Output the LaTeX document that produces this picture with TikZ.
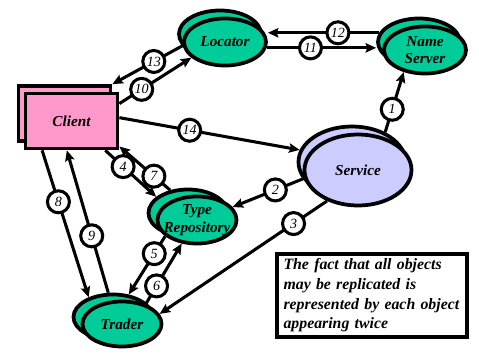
\documentclass[tikz,border=0pt]{standalone}
\usepackage{fontspec}
\setmainfont{Liberation Serif}
\usetikzlibrary{shapes.geometric,arrows.meta}
\definecolor{objgreen}{RGB}{0,204,153}
\definecolor{clipink}{RGB}{255,153,204}
\definecolor{svcblue}{RGB}{204,204,255}
\begin{document}
\begin{tikzpicture}[x=0.3mm,y=-0.3mm,>={Stealth[length=9pt,width=8pt,inset=1.5pt]},
  obj/.style={ellipse,draw,line width=3.2pt,fill=objgreen,inner sep=0pt,minimum width=24.6mm,minimum height=14.1mm,align=center,font=\bfseries\itshape\fontsize{13}{15}\selectfont},
  cli/.style={rectangle,draw,line width=3.2pt,fill=clipink,minimum width=27.6mm,minimum height=16.5mm,font=\bfseries\itshape\fontsize{13}{15}\selectfont},
  num/.style={circle,draw,fill=white,line width=2.6pt,minimum size=6.6mm,inner sep=0pt,font=\itshape\fontsize{12}{13}\selectfont},
  link/.style={->,line width=2.6pt},
  note/.style={rectangle,draw,line width=3.2pt,fill=white,inner xsep=2mm,text width=53mm,minimum height=24.9mm,align=left,font=\bfseries\itshape\fontsize{13.5}{16.8}\selectfont}]
\useasboundingbox (0,0) rectangle (479,359);

% back copies
\node[cli](CliB) at (64.5,113.5){};
\node[obj](LocB) at (220,34){};
\node[obj](NSB) at (419,42){};
\node[obj,fill=svcblue,minimum width=32.1mm,minimum height=21.3mm](SvcB) at (352,162){};
\node[obj,minimum width=23.7mm](TRB) at (188,213){};
\node[obj,minimum width=23.7mm,minimum height=13.5mm](TraB) at (113,317){};

% front copies
\node[cli](Cli) at (71.5,121){Client};
\node[obj](Loc) at (225,42){Locator};
\node[obj](NS) at (425,50){Name\\Server};
\node[obj,fill=svcblue,minimum width=32.1mm,minimum height=21.3mm](Svc) at (358,170){Service};
\node[obj,minimum width=23.7mm,label={[align=center,font=\bfseries\itshape\fontsize{13}{15}\selectfont]center:Type\\Repository}](TR) at (197,220){};
\node[obj,minimum width=23.7mm,minimum height=13.5mm](Tra) at (122,324){Trader};

\draw[link](SvcB.42)--node[num,pos=0.38](n1){1}(NS.226);
\draw[link](SvcB.199)--node[num,pos=0.39](n2){2}(TR.20);
\draw[link](Svc.225)--node[num,pos=0.2](n3){3}(Tra.15);
\draw[link](Cli.-41)--node[num,pos=0.35](n4){4}(TRB.153);
\draw[link](TR.207)--node[num,pos=0.3](n5){5}(TraB.55);
\draw[link](Tra.40)--node[num,pos=0.3](n6){6}(TR.237);
\draw[link](TRB.128)--node[num,pos=0.32](n7){7}(Cli.-28);
\draw[link](Cli.225)--node[num,pos=0.35](n8){8}(TraB.141);
\draw[link](TraB.101)--node[num,pos=0.4](n9){9}(Cli.261);
\draw[link](Cli.20)--node[num,pos=0.31](n10){10}(Loc.205);
\draw[link](Loc.-8)--node[num,pos=0.4](n11){11}(Loc.-8 -| NSB.west);
\draw[link](NSB.167)--node[num,pos=0.37](n12){12}(NSB.167 -| Loc.east);
\draw[link](Loc.185)--node[num,pos=0.41](n13){13}(CliB.north east);
\draw[link](Cli.4)--node[num,pos=0.39](n14){14}(SvcB.167);

\node[note,anchor=north west](note) at (275,252){The fact that all objects\\may be replicated is\\represented by each object\\appearing twice};
\end{tikzpicture}
\end{document}
